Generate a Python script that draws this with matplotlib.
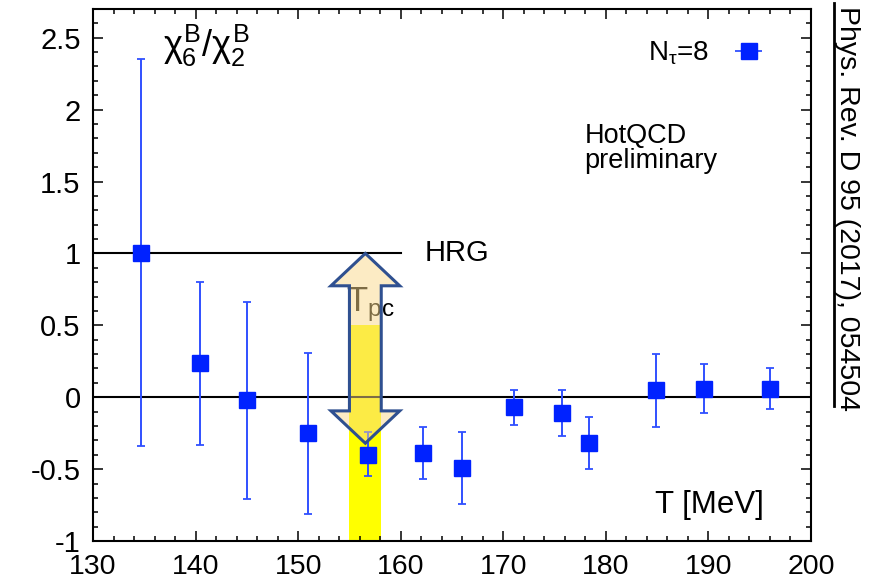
import numpy as np
import matplotlib
matplotlib.use("Agg")
import matplotlib.pyplot as plt
from matplotlib.patches import Polygon
from matplotlib.lines import Line2D
from matplotlib.ticker import MultipleLocator

plt.rcParams['font.family'] = ['Liberation Sans', 'DejaVu Sans']
plt.rcParams['mathtext.fontset'] = 'custom'
plt.rcParams['mathtext.rm'] = 'Liberation Sans'
plt.rcParams['mathtext.it'] = 'Liberation Sans'
plt.rcParams['mathtext.bf'] = 'Liberation Sans:bold'

# chi6/chi2 for N_tau=8
T = [134.7, 140.4, 145.0, 151.0, 156.8, 162.2, 166.0, 171.0, 175.7, 178.4, 184.9, 189.6, 196.0]
ratio = [1.0, 0.24, -0.02, -0.25, -0.40, -0.39, -0.49, -0.07, -0.11, -0.32, 0.05, 0.06, 0.055]
err_hi = [2.35, 0.80, 0.66, 0.31, -0.24, -0.21, -0.245, 0.05, 0.05, -0.14, 0.30, 0.23, 0.20]
err_lo = [-0.34, -0.33, -0.71, -0.81, -0.55, -0.57, -0.74, -0.19, -0.27, -0.50, -0.21, -0.11, -0.085]

# pseudo-critical temperature band
tpc_lo, tpc_hi = 155.0, 158.1
band_top = 0.5
hrg_value = 1.0
hrg_end = 160.0

xticks = [130, 140, 150, 160, 170, 180, 190, 200]
yticks = [-1, -0.5, 0, 0.5, 1, 1.5, 2, 2.5]
ytick_labels = ['-1', '-0.5', '0', '0.5', '1', '1.5', '2', '2.5']

ratio = np.array(ratio)
yerr = [ratio - np.array(err_lo), np.array(err_hi) - ratio]

fig = plt.figure(figsize=(8.72, 5.83), dpi=100)
ax = fig.add_axes([0.1067, 0.072, 0.8233, 0.9126])

ax.fill_between([tpc_lo, tpc_hi], -1, band_top, color='#ffff00', lw=0, zorder=1)

ax.axhline(0, color='black', lw=1.5, zorder=1.5)
ax.plot([130, hrg_end], [hrg_value, hrg_value], color='black', lw=1.5, zorder=1.5)

ax.errorbar(T, ratio, yerr=yerr, fmt='none', ecolor='#3050ff', elinewidth=1.4,
            capsize=3, capthick=1.3, zorder=2)

ax.text(tpc_lo - 0.3, 0.6, r'T$_{\rm pc}$', fontsize=25, color='black', zorder=2.5)

# double headed arrow spanning HRG value down to the data near T_pc
tc = 0.5 * (tpc_lo + tpc_hi)
hw = 0.5 * (tpc_hi - tpc_lo)
head_hw = 3.35
head_len = 0.225
y_top, y_bot = hrg_value, -0.32
arrow = Polygon([[tc, y_top], [tc + head_hw, y_top - head_len], [tc + hw, y_top - head_len],
                 [tc + hw, y_bot + head_len], [tc + head_hw, y_bot + head_len], [tc, y_bot],
                 [tc - head_hw, y_bot + head_len], [tc - hw, y_bot + head_len],
                 [tc - hw, y_top - head_len], [tc - head_hw, y_top - head_len]],
                closed=True, facecolor='#fbd98a', alpha=0.5, edgecolor='none', zorder=3)
ax.add_patch(arrow)
ax.add_patch(Polygon(arrow.get_xy(), closed=True, fill=False, edgecolor='#2f5090', lw=2.2, zorder=3.1))

ax.plot(T, ratio, 's', color='#0022ff', ms=12, zorder=4)

h = ax.errorbar([], [], xerr=[], fmt='s', color='#0022ff', ecolor='#3050ff', ms=11,
                capsize=3, elinewidth=1.3, label=r'N$_\tau$=8')
ax.legend(handles=[h], loc='upper right', frameon=False, markerfirst=False, fontsize=20,
          bbox_to_anchor=(0.975, 0.99), handlelength=1.4, handletextpad=0.7)

ax.text(162.3, hrg_value, 'HRG', fontsize=21, va='center', ha='left')
ax.text(177.9, 1.73, 'HotQCD\npreliminary', fontsize=19.5, va='center', ha='left', linespacing=0.95)
ax.text(0.098, 0.93, r'$\chi_6^B/\chi_2^B$', transform=ax.transAxes, fontsize=26, va='center')
ax.text(0.935, 0.04, 'T [MeV]', transform=ax.transAxes, fontsize=22.5, ha='right', va='bottom')

ax.set_xlim(130, 200)
ax.set_ylim(-1, 2.7)
ax.set_xticks(xticks)
ax.set_yticks(yticks)
ax.set_yticklabels(ytick_labels)
ax.xaxis.set_minor_locator(MultipleLocator(2))
ax.yaxis.set_minor_locator(MultipleLocator(0.1))
ax.tick_params(which='both', direction='in', top=True, right=True, labelsize=21, width=1.1)
ax.tick_params(which='major', length=7)
ax.tick_params(which='minor', length=3.5)
ax.tick_params(axis='x', pad=9.5, labelsize=20.5)
ax.tick_params(axis='y', pad=9)
for s in ax.spines.values():
    s.set_linewidth(1.5)

fig.text(0.9715, 0.99, 'Phys. Rev. D 95 (2017), 054504', rotation=-90, fontsize=20.5,
         ha='center', va='top')
fig.add_artist(Line2D([834 / 872, 834 / 872], [1 - 3 / 583, 1 - 406 / 583], color='black', lw=2))

fig.savefig('out.png', dpi=100)
